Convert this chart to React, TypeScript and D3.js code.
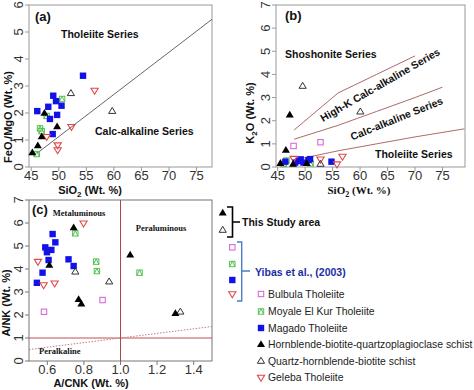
import React from "react";
import * as d3 from "d3";

const W = 474;
const H = 390;
const SANS = "'Liberation Sans', Arial, sans-serif";
const SERIF = "'Liberation Serif', 'Times New Roman', serif";

type Pt = [number, number];

// (a) SiO2 vs FeOt/MgO
const aMagado: Pt[] = [[54.4, 3.38], [49.0, 2.64], [46.1, 2.07], [48.1, 2.23], [49.5, 2.44], [50.5, 2.27], [48.4, 1.78], [49.7, 1.93], [48.9, 1.22]];
const aMoyale: Pt[] = [[50.6, 2.52], [46.6, 1.43], [46.9, 1.33], [46.0, 0.48], [47.8, 1.89]];
const aHbq: Pt[] = [[47.4, 1.99], [49.7, 1.49], [46.9, 1.12], [46.2, 0.79], [45.2, 0.53]];
const aQhb: Pt[] = [[52.2, 2.73], [59.7, 2.07]];
const aGeleba: Pt[] = [[56.5, 2.83], [52.3, 1.49], [47.8, 1.12], [49.8, 0.81], [49.8, 0.63]];
const aDivide: Pt[] = [[46, 0.5], [77.8, 5.47]];

// (b) SiO2 vs K2O
const bMagado: Pt[] = [[48.8, 0.26], [49.7, 0.19], [50.6, 0.3], [50.9, 0.34], [48.2, 0.19], [46.4, 0.23], [54.8, 0.23], [49.2, 0.33]];
const bMoyale: Pt[] = [[46.1, 0.13], [51.0, 0.15], [46.6, 0.28]];
const bHbq: Pt[] = [[47.2, 2.25], [46.5, 0.73], [45.5, 0.16], [47.8, 0.12], [50.3, 0.16]];
const bQhb: Pt[] = [[49.55, 3.5], [60.05, 2.39], [52.8, 0.13]];
const bGeleba: Pt[] = [[56.8, 0.45], [52.8, 0.33], [55.8, 0.12], [47.9, 0.36]];
const bBulbula: Pt[] = [[47.9, 0.91], [52.8, 1.07]];
const bTholLine: Pt[] = [[48, 0.3], [52, 0.5], [56, 0.7], [63, 1.0], [70, 1.3], [79, 1.65]];
const bCalcLine: Pt[] = [[48, 1.2], [52, 1.5], [56, 1.8], [63, 2.4], [70, 3.0], [75, 3.45]];
const bHighKLine: Pt[] = [[48, 1.6], [52, 2.4], [56, 3.2], [63, 4.0], [70, 4.8]];

// (c) A/CNK vs A/NK
const cMagado: Pt[] = [[0.629, 5.52], [0.644, 5.16], [0.589, 4.94], [0.622, 4.83], [0.598, 4.73], [0.607, 4.39], [0.716, 4.42], [0.744, 4.13], [0.574, 3.84], [0.543, 3.4]];
const cHbq: Pt[] = [[0.744, 5.8], [0.611, 4.17], [1.053, 4.61], [0.771, 2.68], [0.786, 2.48], [1.3, 2.07]];
const cQhb: Pt[] = [[0.753, 3.88], [0.938, 3.45], [1.327, 2.14]];
const cMoyale: Pt[] = [[0.753, 5.55], [0.867, 4.32], [0.871, 3.91], [1.104, 3.84]];
const cGeleba: Pt[] = [[0.798, 5.99], [0.549, 4.32], [0.58, 3.3], [0.64, 3.38]];
const cBulbula: Pt[] = [[0.902, 2.65], [0.582, 2.14]];
const cShand: Pt[] = [[0.5, 0.5], [1.5, 1.5]];

const siTicks = [45, 50, 55, 60, 65, 70, 75];
const acnkTicks = [0.6, 0.8, 1.0, 1.2, 1.4];

const legendNames = [
  "Bulbula Tholeiite",
  "Moyale El Kur Tholeiite",
  "Magado Tholeiite",
  "Hornblende-biotite-quartzoplagioclase schist",
  "Quartz-hornblende-biotite schist",
  "Geleba Tholeiite",
];
const legendKinds = ["bulbula", "moyale", "magado", "hbq", "qhb", "geleba"];

function Marker({ kind, x, y }: { kind: string; x: number; y: number }) {
  const s = 3.2;
  const t = 4.2;
  if (kind === "magado")
    return <rect x={x - s} y={y - s} width={2 * s} height={2 * s} fill="#1212e8" />;
  if (kind === "bulbula")
    return <rect x={x - s + 0.5} y={y - s + 0.5} width={2 * s - 1} height={2 * s - 1} fill="none" stroke="#d46cd4" strokeWidth={1.1} />;
  if (kind === "moyale")
    return (
      <g fill="none" stroke="#52c052" strokeWidth={1}>
        <rect x={x - s + 0.5} y={y - s + 0.5} width={2 * s - 1} height={2 * s - 1} />
        <path d={`M${x - s + 0.5},${y + s - 0.5}L${x},${y - s + 0.5}L${x + s - 0.5},${y + s - 0.5}`} />
      </g>
    );
  if (kind === "hbq")
    return <path d={`M${x},${y - t}L${x + 4},${y + 2.6}L${x - 4},${y + 2.6}Z`} fill="#000" />;
  if (kind === "qhb")
    return <path d={`M${x},${y - t + 0.5}L${x + 3.6},${y + 2.3}L${x - 3.6},${y + 2.3}Z`} fill="none" stroke="#333" strokeWidth={1} />;
  return <path d={`M${x},${y + t - 0.5}L${x + 3.6},${y - 2.3}L${x - 3.6},${y - 2.3}Z`} fill="none" stroke="#e04848" strokeWidth={1.1} />;
}

type Series = { kind: string; pts: Pt[] };

function Frame({ left, top, right, bottom, xs, ys, xTicks, yTicks, fmt, stroke }: any) {
  return (
    <g fontFamily={SANS} fontSize={13} fill="#333">
      <rect x={left} y={top} width={right - left} height={bottom - top} fill="none" stroke={stroke} strokeWidth={1} />
      {xTicks.map((v: number) => (
        <g key={"x" + v}>
          <line x1={xs(v)} x2={xs(v)} y1={bottom} y2={bottom + 4} stroke={stroke} />
          <text x={xs(v)} y={bottom + 13} textAnchor="middle">{fmt(v)}</text>
        </g>
      ))}
      {yTicks.map((v: number) => (
        <g key={"y" + v}>
          <line x1={left - 4} x2={left} y1={ys(v)} y2={ys(v)} stroke={stroke} />
          <text transform={`translate(${left - 6},${ys(v)}) rotate(-90)`} textAnchor="middle">{v}</text>
        </g>
      ))}
    </g>
  );
}

function Points({ series, xs, ys }: { series: Series[]; xs: any; ys: any }) {
  return (
    <g>
      {series.map((s) =>
        s.pts.map((p, i) => <Marker key={s.kind + i} kind={s.kind} x={xs(p[0])} y={ys(p[1])} />)
      )}
    </g>
  );
}

export default function App() {
  // panel (a)
  const ax = d3.scaleLinear().domain([44.6, 77.8]).range([29, 212]);
  const ay = d3.scaleLinear().domain([0, 6]).range([167, 5]);
  // panel (b)
  const bx = d3.scaleLinear().domain([44.7, 79.1]).range([276, 465]);
  const by = d3.scaleLinear().domain([0, 7]).range([167, 5]);
  // panel (c)
  const cx = d3.scaleLinear().domain([0.5, 1.5]).range([29, 212]);
  const cy = d3.scaleLinear().domain([0, 7]).range([361, 200]);

  const la = d3.line<Pt>().x((d) => ax(d[0])).y((d) => ay(d[1]));
  const lb = d3.line<Pt>().x((d) => bx(d[0])).y((d) => by(d[1]));
  const lc = d3.line<Pt>().x((d) => cx(d[0])).y((d) => cy(d[1]));

  const aSeries: Series[] = [
    { kind: "moyale", pts: aMoyale },
    { kind: "magado", pts: aMagado },
    { kind: "geleba", pts: aGeleba },
    { kind: "qhb", pts: aQhb },
    { kind: "hbq", pts: aHbq },
  ];
  const bSeries: Series[] = [
    { kind: "bulbula", pts: bBulbula },
    { kind: "moyale", pts: bMoyale },
    { kind: "magado", pts: bMagado },
    { kind: "geleba", pts: bGeleba },
    { kind: "qhb", pts: bQhb },
    { kind: "hbq", pts: bHbq },
  ];
  const cSeries: Series[] = [
    { kind: "bulbula", pts: cBulbula },
    { kind: "moyale", pts: cMoyale },
    { kind: "magado", pts: cMagado },
    { kind: "geleba", pts: cGeleba },
    { kind: "qhb", pts: cQhb },
    { kind: "hbq", pts: cHbq },
  ];

  const legY = [294, 311.5, 328, 344.5, 361, 377.5];

  return (
    <svg width={W} height={H} style={{ position: "absolute", left: 0, top: 0, background: "#fff" }}>
      {/* (a) */}
      <Frame left={29} top={5} right={212} bottom={167} xs={ax} ys={ay} xTicks={siTicks} yTicks={d3.range(0, 7)} fmt={(v: number) => v} stroke="#999" />
      <path d={la(aDivide) || ""} fill="none" stroke="#555" strokeWidth={0.9} />
      <Points series={aSeries} xs={ax} ys={ay} />
      <g fontFamily={SANS} fontWeight="bold" fill="#111">
        <text x={35} y={21} fontSize={13}>(a)</text>
        <text x={61} y={38} fontSize={10.5}>Tholeiite Series</text>
        <text x={95} y={135} fontSize={10.5}>Calc-alkaline Series</text>
        <text x={90} y={194} fontSize={11} textAnchor="middle">
          SiO<tspan dy={3} fontSize={8}>2</tspan><tspan dy={-3}> (Wt. %)</tspan>
        </text>
        <text transform="translate(12,117) rotate(-90)" fontSize={11} textAnchor="middle">
          FeO<tspan dy={3} fontSize={8}>t</tspan><tspan dy={-3}>/MgO (Wt. %)</tspan>
        </text>
      </g>

      {/* (b) */}
      <Frame left={276} top={5} right={465} bottom={167} xs={bx} ys={by} xTicks={siTicks} yTicks={d3.range(0, 8)} fmt={(v: number) => v} stroke="#999" />
      <defs>
        <clipPath id="clipb">
          <rect x={276} y={5} width={189} height={162} />
        </clipPath>
      </defs>
      <g clipPath="url(#clipb)" fill="none" stroke="#ad6a6a" strokeWidth={1}>
        <path d={lb(bTholLine) || ""} />
        <path d={lb(bCalcLine) || ""} />
        <path d={lb(bHighKLine) || ""} />
      </g>
      <Points series={bSeries} xs={bx} ys={by} />
      <g fontFamily={SANS} fontWeight="bold" fill="#111">
        <text x={285} y={20} fontSize={13}>(b)</text>
        <text x={285} y={58} fontSize={10.5}>Shoshonite Series</text>
        <text x={375} y={158} fontSize={10.5}>Tholeiite Series</text>
        <text transform="translate(382,88) rotate(-30)" fontSize={10.5} textAnchor="middle">High-K Calc-alkaline Series</text>
        <text transform="translate(398,122) rotate(-22)" fontSize={10.5} textAnchor="middle">Calc-alkaline Series</text>
        <text x={359} y={194} fontSize={11} textAnchor="middle" fontFamily={SERIF}>
          SiO<tspan dy={3} fontSize={8}>2</tspan><tspan dy={-3}> (Wt. %)</tspan>
        </text>
        <text transform="translate(254,113) rotate(-90)" fontSize={11} textAnchor="middle">
          K<tspan dy={3} fontSize={8}>2</tspan><tspan dy={-3}>O (Wt. %)</tspan>
        </text>
      </g>

      {/* (c) */}
      <Frame left={29} top={200} right={212} bottom={361} xs={cx} ys={cy} xTicks={acnkTicks} yTicks={d3.range(0, 8)} fmt={(v: number) => d3.format(".1f")(v)} stroke="#777" />
      <g fill="none" strokeWidth={1}>
        <line x1={cx(1)} x2={cx(1)} y1={cy(0)} y2={cy(7)} stroke="#a84848" />
        <line x1={cx(0.5)} x2={cx(1.5)} y1={cy(1)} y2={cy(1)} stroke="#c05050" />
        <path d={lc(cShand) || ""} stroke="#c47c7c" strokeDasharray="1.5,1.5" />
      </g>
      <Points series={cSeries} xs={cx} ys={cy} />
      <g fontWeight="bold" fill="#111">
        <text x={32} y={214} fontSize={13} fontFamily={SANS}>(c)</text>
        <text x={79} y={216} fontSize={8.5} fontFamily={SERIF} textAnchor="middle">Metaluminous</text>
        <text x={161} y={231} fontSize={8.5} fontFamily={SERIF} textAnchor="middle">Peraluminous</text>
        <text x={39} y={354} fontSize={8.5} fontFamily={SERIF}>Peralkaline</text>
        <text x={91} y={387} fontSize={11} fontFamily={SANS} textAnchor="middle">A/CNK (Wt. %)</text>
        <text transform="translate(10,303) rotate(-90)" fontSize={11} fontFamily={SANS} textAnchor="middle">A/NK (Wt. %)</text>
      </g>

      {/* legend */}
      <Marker kind="hbq" x={222.7} y={213} />
      <Marker kind="qhb" x={222.7} y={230} />
      <path d="M227,207H232.5V237H227M232.5,222H240" fill="none" stroke="#000" strokeWidth={1.6} />
      <text x={242} y={226} fontFamily={SANS} fontWeight="bold" fontSize={10.5} fill="#111">This Study area</text>
      <Marker kind="bulbula" x={232.3} y={247.3} />
      <Marker kind="moyale" x={232.3} y={264} />
      <Marker kind="magado" x={232.3} y={280} />
      <Marker kind="geleba" x={232.3} y={294} />
      <path d="M237,242H241.7V301H237M241.7,271H250" fill="none" stroke="#4a7ec4" strokeWidth={1.4} />
      <text x={255} y={276} fontFamily={SANS} fontWeight="bold" fontSize={10.5} fill="#1a2ea8">Yibas et al., (2003)</text>
      {legendNames.map((name, i) => (
        <g key={name}>
          <Marker kind={legendKinds[i]} x={261} y={legY[i]} />
          <text x={268} y={legY[i] + 3.8} fontFamily={SANS} fontSize={10.4} fill="#222">{name}</text>
        </g>
      ))}
    </svg>
  );
}
